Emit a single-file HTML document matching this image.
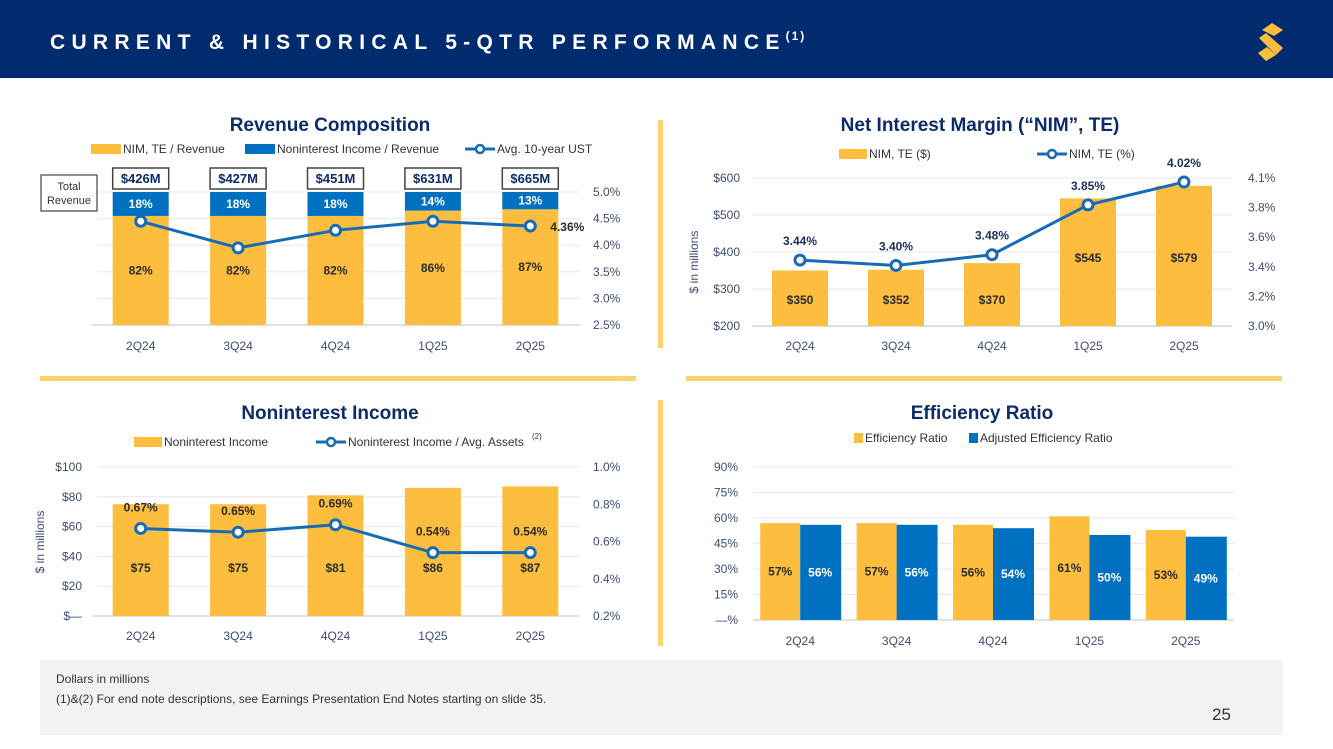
<!DOCTYPE html>
<html><head><meta charset="utf-8">
<style>
html,body{margin:0;padding:0;background:#fff;}
svg{display:block;font-family:"Liberation Sans",sans-serif;}
</style></head>
<body>
<svg id="s" width="1333" height="749" viewBox="0 0 1333 749" xmlns="http://www.w3.org/2000/svg">
<rect x="0" y="0" width="1333" height="78" fill="#002b6f"/>
<text x="50" y="49" fill="#fff" font-size="21" font-weight="bold" letter-spacing="6.3">CURRENT &amp; HISTORICAL 5-QTR PERFORMANCE<tspan font-size="12" dy="-9" letter-spacing="2">(1)</tspan></text>
<g fill="#fdbe3f">
<path d="M1262 30 L1272 23 L1283 30 L1274 36 Z"/>
<path d="M1259 38 L1266 33 L1283 48 L1276 55 Z"/>
<path d="M1258 53 L1267 47 L1276 55 L1266 61 Z"/>
</g>
<g fill="#fdd36b">
<rect x="658" y="120" width="5" height="228"/>
<rect x="658" y="400" width="5" height="246"/>
<rect x="40" y="376" width="596" height="5"/>
<rect x="686" y="376" width="596" height="5"/>
</g>
<rect x="40" y="660" width="1243" height="75" fill="#f2f2f2"/>
<text x="56" y="683" font-size="12" fill="#333">Dollars in millions</text>
<text x="56" y="703" font-size="12" fill="#333">(1)&amp;(2)  For end note descriptions, see Earnings Presentation End Notes starting on slide 35.</text>
<text x="1212" y="720" font-size="17" fill="#333">25</text>
<g id="charts"></g>
</svg>
<script>
const cats = ['2Q24','3Q24','4Q24','1Q25','2Q25'];
// Revenue composition
const revTotals = ['$426M','$427M','$451M','$631M','$665M'];
const revNim = [82,82,82,86,87];
const revNonint = [18,18,18,14,13];
const ust = [4.45,3.95,4.28,4.45,4.36];
const revRightTicks = [2.5,3.0,3.5,4.0,4.5,5.0];
// NIM
const nimDollars = [350,352,370,545,579];
const nimPct = [3.44,3.40,3.48,3.85,4.02];
const nimLeftTicks = [200,300,400,500,600];
const nimRightTickLabels = ['3.0%','3.2%','3.4%','3.6%','3.8%','4.1%'];
// Noninterest income
const niDollars = [75,75,81,86,87];
const niPct = [0.67,0.65,0.69,0.54,0.54];
const niLeftTicks = [0,20,40,60,80,100];
const niRightTicks = [0.2,0.4,0.6,0.8,1.0];
// Efficiency
const effRatio = [57,57,56,61,53];
const adjEffRatio = [56,56,54,50,49];
const effTicks = [0,15,30,45,60,75,90];

const NS='http://www.w3.org/2000/svg';
const root=document.getElementById('charts');
const YEL='#fdbe3f',BLU='#0070c0',LINE='#176bb5',NAVY='#0d2b6b',AX='#3d4d70';
function mk(tag,attrs,parent,txt){const e=document.createElementNS(NS,tag);for(const k in attrs)e.setAttribute(k,attrs[k]);if(txt!==undefined)e.textContent=txt;(parent||root).appendChild(e);return e;}
function lin(d0,d1,r0,r1){return v=>r0+(v-d0)/(d1-d0)*(r1-r0);}
function band(x0,x1){const st=(x1-x0)/cats.length;return i=>x0+st*(i+0.5);}
function title(x,y,t,g){const e=mk('text',{x:x,y:y,'text-anchor':'middle','font-size':19,'font-weight':'bold',fill:NAVY},g,t);}
function legRect(x,y,c,t,g,w){const r=mk('rect',{x:x,y:y-9,width:w||30,height:10,fill:c},g);const e=mk('text',{x:x+(w||30)+2,y:y,'font-size':12,fill:'#333'},g,t);return e;}
function legLine(x,y,t,g){mk('line',{x1:x,y1:y-4,x2:x+30,y2:y-4,stroke:LINE,'stroke-width':3},g);const c=mk('circle',{cx:x+15,cy:y-4,r:4,fill:'#fff',stroke:LINE,'stroke-width':2.5},g);const e=mk('text',{x:x+32,y:y,'font-size':12,fill:'#333'},g,t);return e;}
function grid(x0,x1,y,g){mk('line',{x1:x0,x2:x1,y1:y,y2:y,stroke:'#e6e9f0','stroke-width':1},g);}
function lab(x,y,t,g,anchor,col,bold,size,name){const e=mk('text',{x:x,y:y,'text-anchor':anchor||'middle','font-size':size||12,fill:col||AX,'font-weight':bold?'bold':'normal'},g,t);return e;}
function linePts(xs,ys,vals,g,name){const pts=vals.map((v,i)=>xs(i)+','+ys(v)).join(' ');const p=mk('polyline',{points:pts,fill:'none',stroke:LINE,'stroke-width':3},g);vals.forEach((v,i)=>{const c=mk('circle',{cx:xs(i),cy:ys(v),r:5,fill:'#fff',stroke:LINE,'stroke-width':3},g);});}

// ---- Chart A: Revenue Composition
(function(){
const g=mk('g',{});
title(330,131,'Revenue Composition',g);
legRect(91,153,YEL,'NIM, TE / Revenue',g);
legRect(245,153,BLU,'Noninterest Income / Revenue',g);
legLine(465,153,'Avg. 10-year UST',g);
const x=band(92,579),yb=lin(0,100,325,192),yr=lin(2.5,5.0,325,192);
revRightTicks.forEach(t=>{grid(97,580,yr(t),g);lab(593,yr(t)+4,t.toFixed(1)+'%',g,'start',AX,false,12,'right-axis-tick');});
mk('line',{x1:92,x2:580,y1:325,y2:325,stroke:'#d0d7e5','stroke-width':1.5},g);
const bw=56;
cats.forEach((c,i)=>{
 const cx=x(i);
 const r1=mk('rect',{x:cx-bw/2,y:yb(revNim[i]),width:bw,height:yb(0)-yb(revNim[i]),fill:YEL},g);
 const r2=mk('rect',{x:cx-bw/2,y:yb(100),width:bw,height:yb(revNim[i])-yb(100),fill:BLU},g);
 lab(cx,yb(revNim[i]/2)+4,revNim[i]+'%',g,'middle','#2b2b2b',true,12,'bar-value');
 lab(cx,(yb(100)+yb(revNim[i]))/2+4,revNonint[i]+'%',g,'middle','#fff',true,12,'bar-value');
 const b=mk('rect',{x:cx-28,y:168,width:56,height:21,fill:'#fff',stroke:'#444','stroke-width':1.5},g);
 lab(cx,183,revTotals[i],g,'middle',NAVY,true,13,'total-revenue-value');
 lab(cx,350,c,g,'middle',AX,false,12,'x-axis-tick');
});
linePts(x,yr,ust,g,'ust-line');
lab(x(4)+20,yr(ust[4])+5,ust[4].toFixed(2)+'%',g,'start','#2b2b2b',true,12,'ust-last-value');
const tb=mk('rect',{x:41,y:175,width:56,height:36,fill:'#fff',stroke:'#444','stroke-width':1.2},g);
lab(69,190,'Total',g,'middle','#333',false,11,'total-revenue-label');lab(69,204,'Revenue',g,'middle','#333',false,11,'total-revenue-label');
})();

// ---- Chart B: NIM
(function(){
const g=mk('g',{});
title(980,131,'Net Interest Margin (“NIM”, TE)',g);
legRect(839,158,YEL,'NIM, TE ($)',g,28);
legLine(1037,158,'NIM, TE (%)',g);
const x=band(752,1232),yl=lin(200,600,326,178),yr=lin(2.95,4.05,326,178);
nimLeftTicks.forEach(t=>{grid(752,1232,yl(t),g);lab(740,yl(t)+4,'$'+t,g,'end',AX,false,12,'left-axis-tick');});
nimRightTickLabels.forEach((t,i)=>lab(1248,326-i*148/5+4,t,g,'start',AX,false,12,'right-axis-tick'));
mk('line',{x1:752,x2:1232,y1:326,y2:326,stroke:'#d0d7e5','stroke-width':1.5},g);
const yt=lab(0,0,'$ in millions',g,'middle',AX,false,12,'y-axis-title');yt.setAttribute('transform','translate(698,262) rotate(-90)');
cats.forEach((c,i)=>{const cx=x(i);
 const r=mk('rect',{x:cx-28,y:yl(nimDollars[i]),width:56,height:yl(200)-yl(nimDollars[i]),fill:YEL},g);
 lab(cx,(i<3?304:262),'$'+nimDollars[i],g,'middle','#2b2b2b',true,12,'bar-value');
 lab(cx,yr(nimPct[i])-15,nimPct[i].toFixed(2)+'%',g,'middle','#1c2f5c',true,12,'line-value');
 lab(cx,350,c,g,'middle',AX,false,12,'x-axis-tick');});
linePts(x,yr,nimPct,g,'nim-pct-line');
})();

// ---- Chart C: Noninterest income
(function(){
const g=mk('g',{});
title(330,419,'Noninterest Income',g);
legRect(134,446,YEL,'Noninterest Income',g,28);
legLine(316,446,'Noninterest Income / Avg. Assets',g);
lab(532,439,'(2)',g,'start','#333',false,8,'footnote-marker');
const x=band(92,579),yl=lin(0,100,616,467),yr=lin(0.2,1.0,616,467);
niLeftTicks.forEach(t=>{grid(97,580,yl(t),g);lab(82,yl(t)+4,t===0?'$—':'$'+t,g,'end',AX,false,12,'left-axis-tick');});
niRightTicks.forEach(t=>lab(593,yr(t)+4,t.toFixed(1)+'%',g,'start',AX,false,12,'right-axis-tick'));
mk('line',{x1:92,x2:580,y1:616,y2:616,stroke:'#d0d7e5','stroke-width':1.5},g);
const yt=lab(0,0,'$ in millions',g,'middle',AX,false,12,'y-axis-title');yt.setAttribute('transform','translate(44,542) rotate(-90)');
cats.forEach((c,i)=>{const cx=x(i);
 const r=mk('rect',{x:cx-28,y:yl(niDollars[i]),width:56,height:yl(0)-yl(niDollars[i]),fill:YEL},g);
 lab(cx,572,'$'+niDollars[i],g,'middle','#2b2b2b',true,12,'bar-value');
 lab(cx,yr(niPct[i])-17,niPct[i].toFixed(2)+'%',g,'middle','#2b2b2b',true,12,'line-value');
 lab(cx,640,c,g,'middle',AX,false,12,'x-axis-tick');});
linePts(x,yr,niPct,g,'nonint-pct-line');
})();

// ---- Chart D: Efficiency
(function(){
const g=mk('g',{});
title(982,419,'Efficiency Ratio',g);
legRect(854,442,YEL,'Efficiency Ratio',g,9);
legRect(969,442,BLU,'Adjusted Efficiency Ratio',g,9);
const x=band(752,1234),y=lin(0,90,620,467);
effTicks.forEach(t=>{grid(753,1234,y(t),g);lab(738,y(t)+4,t===0?'—%':t+'%',g,'end',AX,false,12,'y-axis-tick');});
mk('line',{x1:753,x2:1234,y1:620,y2:620,stroke:'#d0d7e5','stroke-width':1.5},g);
cats.forEach((c,i)=>{const cx=x(i);
 const r1=mk('rect',{x:cx-40,y:y(effRatio[i]),width:40,height:y(0)-y(effRatio[i]),fill:YEL},g);
 const r2=mk('rect',{x:cx,y:y(adjEffRatio[i]),width:41,height:y(0)-y(adjEffRatio[i]),fill:BLU},g);
 lab(cx-20,(y(effRatio[i])+y(0))/2+4,effRatio[i]+'%',g,'middle','#2b2b2b',true,12,'bar-value');
 lab(cx+20,(y(adjEffRatio[i])+y(0))/2+4,adjEffRatio[i]+'%',g,'middle','#fff',true,12,'bar-value');
 lab(cx,645,c,g,'middle',AX,false,12,'x-axis-tick');});
})();
</script>
</body></html>
